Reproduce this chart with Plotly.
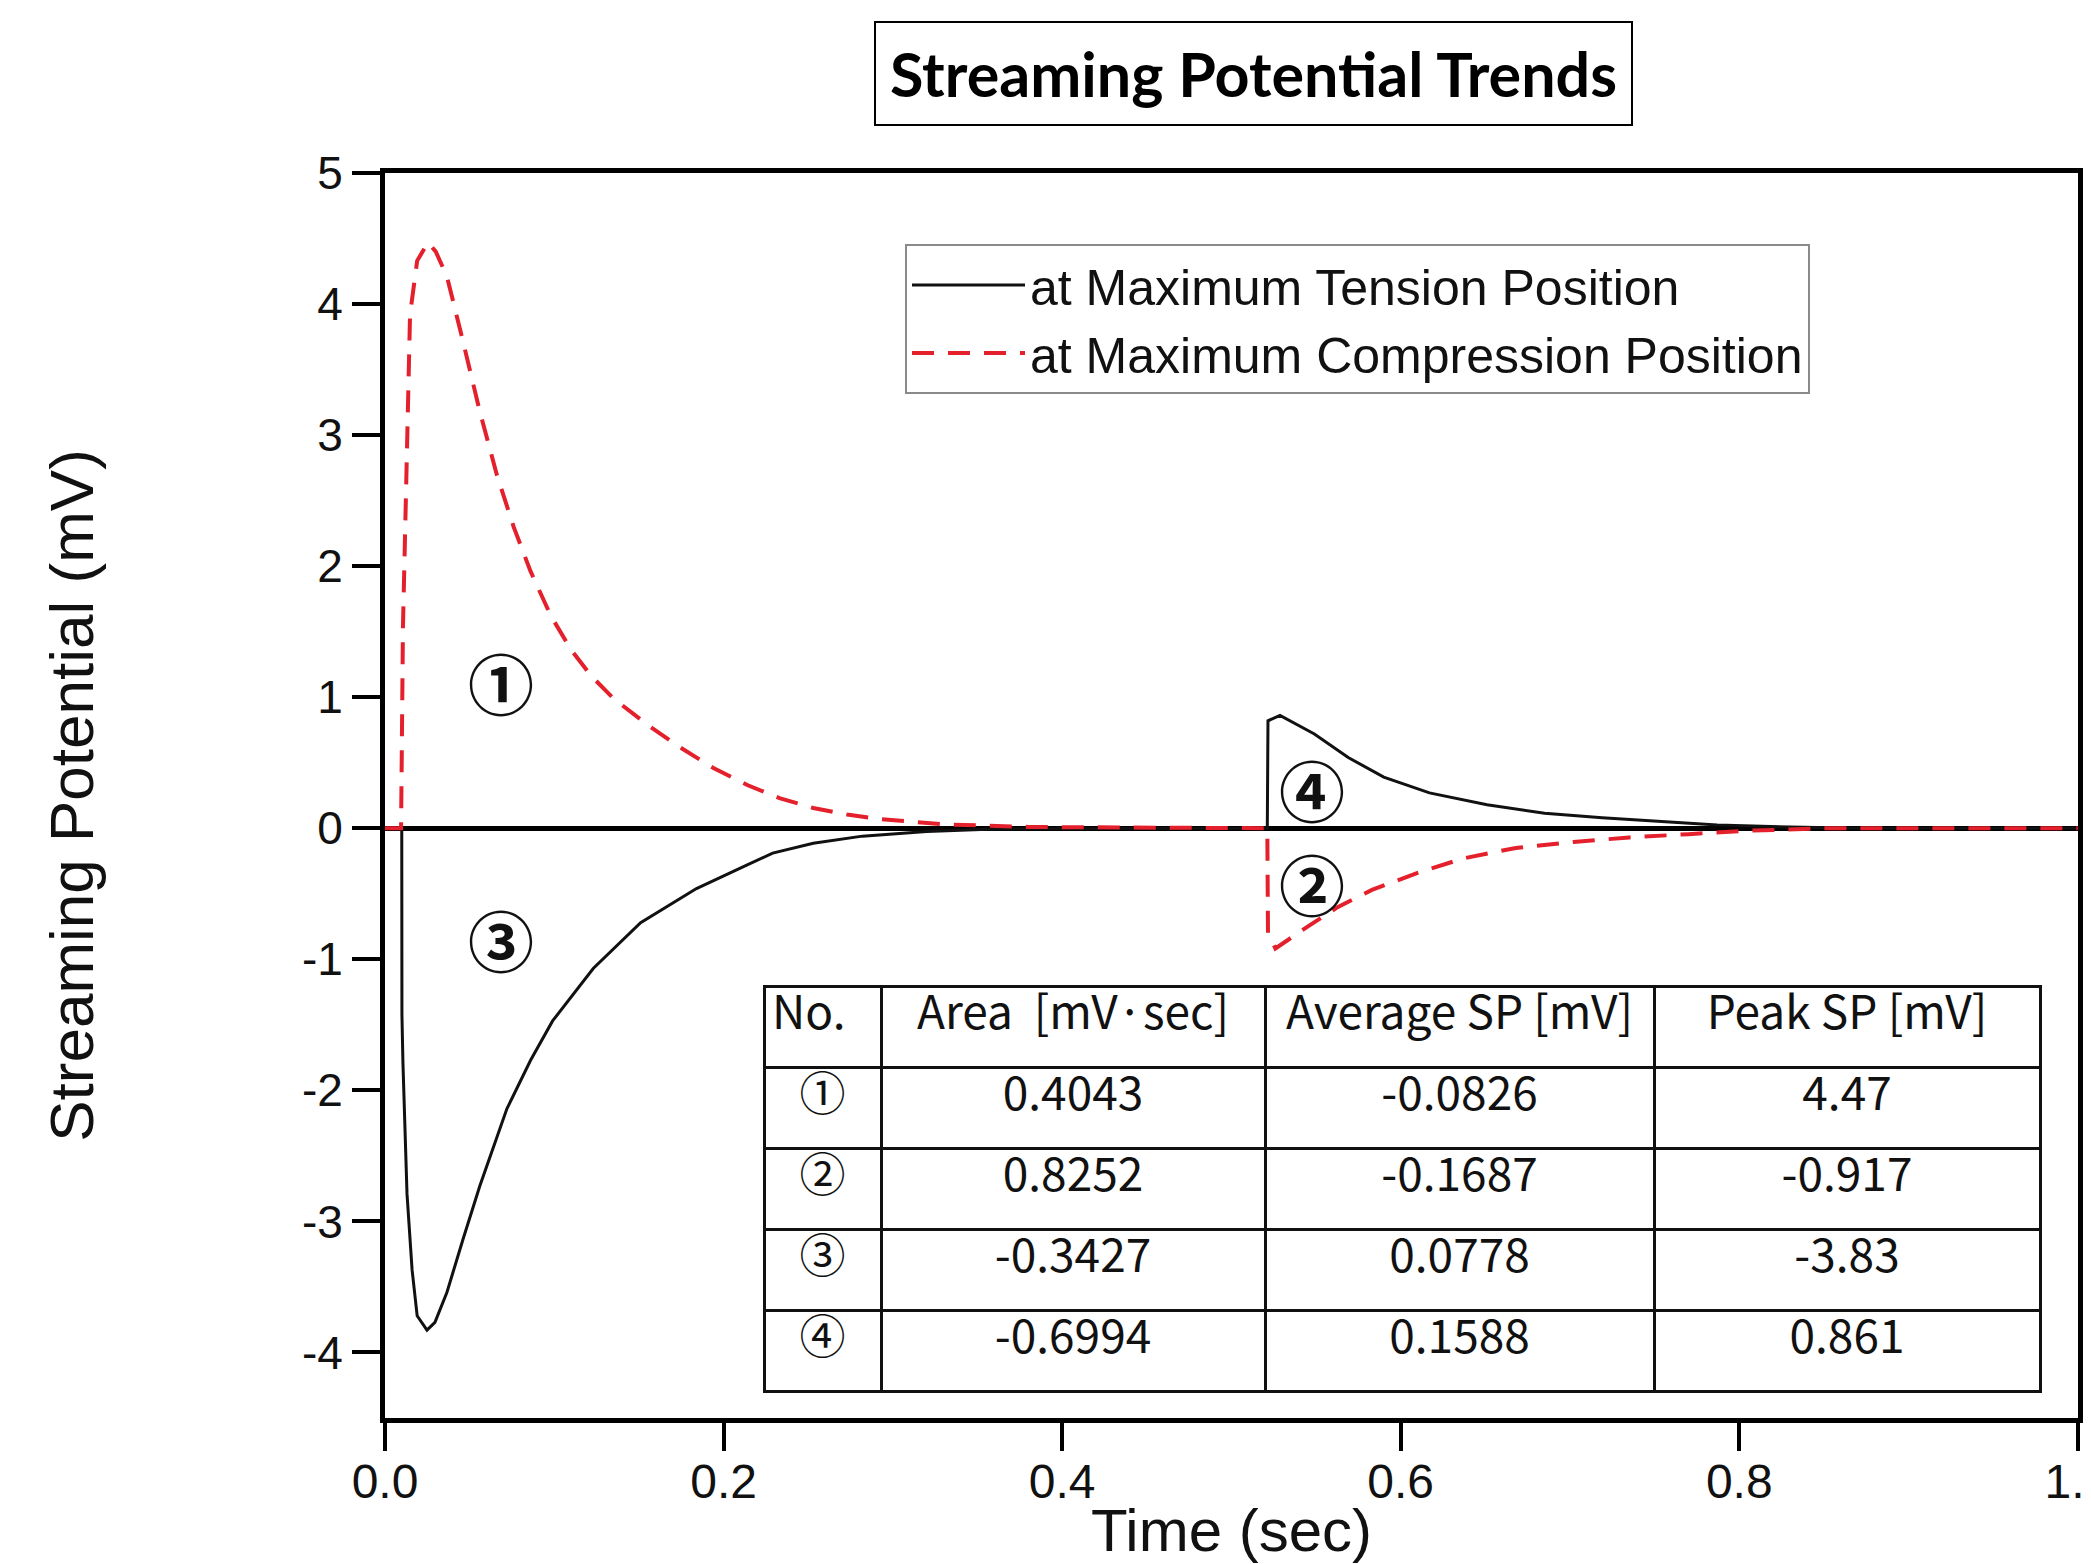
import plotly.graph_objects as go

# ---------------- data ----------------
t_tension = [0, 0.0099, 0.0100, 0.0106, 0.013, 0.016, 0.019, 0.0248, 0.0295, 0.0366,
             0.046, 0.056, 0.072, 0.086, 0.099, 0.123, 0.151, 0.184, 0.214, 0.229,
             0.253, 0.282, 0.32, 0.36, 0.52, 0.5212, 0.5216, 0.5287, 0.549, 0.569,
             0.59, 0.617, 0.651, 0.685, 0.719, 0.753, 0.787, 0.83, 0.87, 1.0]
v_tension = [0, 0, -1.42, -1.79, -2.79, -3.37, -3.72, -3.83, -3.77, -3.54,
             -3.14, -2.73, -2.14, -1.77, -1.47, -1.07, -0.72, -0.46, -0.28, -0.19,
             -0.115, -0.06, -0.025, -0.005, 0, 0, 0.82, 0.861, 0.72, 0.54,
             0.39, 0.27, 0.18, 0.115, 0.08, 0.05, 0.025, 0.01, 0, 0]

t_compression = [0, 0.0095, 0.0106, 0.013, 0.0148, 0.019, 0.0254, 0.030, 0.0366, 0.046,
                 0.056, 0.066, 0.076, 0.086, 0.098, 0.110, 0.122, 0.135, 0.155, 0.174,
                 0.194, 0.214, 0.233, 0.253, 0.273, 0.292, 0.33, 0.38, 0.52, 0.5212,
                 0.5216, 0.526, 0.545, 0.563, 0.583, 0.61, 0.637, 0.668, 0.702, 0.735,
                 0.77, 0.803, 0.85, 1.0]
v_compression = [0, 0, 1.53, 3.05, 3.92, 4.33, 4.47, 4.40, 4.21, 3.72,
                  3.18, 2.70, 2.30, 1.96, 1.62, 1.36, 1.16, 0.99, 0.79, 0.62,
                  0.46, 0.33, 0.23, 0.155, 0.105, 0.07, 0.03, 0.01, 0, 0,
                  -0.80, -0.917, -0.75, -0.60, -0.47, -0.34, -0.23, -0.15, -0.105, -0.07,
                  -0.045, -0.02, 0, 0]

series_names = ["at Maximum Tension Position", "at Maximum Compression Position"]

x_tick_vals = [0.0, 0.2, 0.4, 0.6, 0.8, 1.0]
y_tick_vals = [-4, -3, -2, -1, 0, 1, 2, 3, 4, 5]
y_tick_text = ["-4", "-3", "-2", "-1", "0", "1", "2", "3", "4", "5"]

region_labels = ["①", "②", "③", "④"]
region_t = [0.0686, 0.5477, 0.0686, 0.5477]
region_v = [1.12, -0.41, -0.835, 0.305]

table_header = ["No.", "Area  [mV·sec]", "Average SP [mV]", "Peak SP [mV]"]
table_no = ["①", "②", "③", "④"]
table_area = ["0.4043", "0.8252", "-0.3427", "-0.6994"]
table_avg = ["-0.0826", "-0.1687", "0.0778", "0.1588"]
table_peak = ["4.47", "-0.917", "-3.83", "0.861"]

# ---------------- layout geometry (page pixels) ----------------
OFF = 8                      # default body margin of the html page
PAGE_W, PAGE_H = 2091, 1564
W, H = PAGE_W - OFF, PAGE_H - OFF
PLOT_L, PLOT_R, PLOT_T, PLOT_B = 385, 2078, 173, 1418   # page coords of the plot area
ML, MR = PLOT_L - OFF, PAGE_W - PLOT_R
MT, MB = PLOT_T - OFF, PAGE_H - PLOT_B
PW, PH = PLOT_R - PLOT_L, PLOT_B - PLOT_T


def px_x(p):
    return (p - PLOT_L) / PW


def px_y(p):
    return (PLOT_B - p) / PH


AX_FONT = "Liberation Sans, Arial, sans-serif"
RED = "#e3202b"
INK = "#111111"

fig = go.Figure()
fig.add_trace(go.Scatter(x=t_tension, y=v_tension, mode="lines", name=series_names[0],
                         line=dict(color=INK, width=3)))
fig.add_trace(go.Scatter(x=t_compression, y=v_compression, mode="lines", name=series_names[1],
                         line=dict(color=RED, width=4, dash="22px,14px")))

fig.add_trace(go.Table(
    domain=dict(x=[px_x(764), px_x(2040)], y=[px_y(1393), px_y(986)]),
    columnwidth=[117, 384, 389, 386],
    header=dict(values=table_header, height=81,
                align=["left", "center", "center", "center"],
                fill_color="white", line=dict(color=INK, width=3),
                font=dict(family="Noto Sans CJK KR", size=46, color=INK)),
    cells=dict(values=[table_no, table_area, table_avg, table_peak], height=81,
               align="center", fill_color="white", line=dict(color=INK, width=3),
               font=dict(family="Noto Sans CJK KR", size=46, color=INK)),
))

for lab, tx, vy in zip(region_labels, region_t, region_v):
    fig.add_annotation(x=tx, y=vy, xref="x", yref="y", text=lab, showarrow=False,
                       xanchor="center", yanchor="middle",
                       font=dict(family="Noto Sans CJK KR", size=66, color=INK, weight="bold"))

fig.add_annotation(x=px_x(1253.5), y=px_y(74), xref="paper", yref="paper",
                   xanchor="center", yanchor="middle",
                   text="<b>Streaming Potential Trends</b>", showarrow=False,
                   font=dict(family="Lato, sans-serif", size=61, color="black"),
                   bordercolor="black", borderwidth=2, borderpad=14, bgcolor="white")

fig.update_layout(
    template="none",
    width=W, height=H,
    margin=dict(l=ML, r=MR, t=MT, b=MB, pad=0),
    paper_bgcolor="white", plot_bgcolor="white",
    showlegend=True,
    legend=dict(x=px_x(905), y=px_y(244), xanchor="left", yanchor="top",
                bordercolor="#8a8a8a", borderwidth=2, bgcolor="white",
                font=dict(family=AX_FONT, size=50, color=INK),
                itemwidth=113, tracegroupgap=0),
    xaxis=dict(range=[0, 1.0001], tickvals=x_tick_vals, tickformat=".1f",
               ticks="outside", ticklen=28, tickwidth=4, tickcolor="black",
               ticklabelstandoff=-11, ticklabeloverflow="allow",
               showline=True, linewidth=5, linecolor="black", mirror=True,
               showgrid=False, zeroline=False, automargin=False,
               tickfont=dict(family=AX_FONT, size=48, color=INK),
               title=dict(text="Time (sec)", standoff=20,
                          font=dict(family=AX_FONT, size=60, color=INK))),
    yaxis=dict(range=[-4.5, 5], tickvals=y_tick_vals, ticktext=y_tick_text,
               ticks="outside", ticklen=28, tickwidth=4, tickcolor="black",
               showline=True, linewidth=5, linecolor="black", mirror=True,
               showgrid=False, zeroline=True, zerolinecolor="black", zerolinewidth=5,
               automargin=False,
               tickfont=dict(family=AX_FONT, size=46, color=INK),
               title=dict(text="Streaming Potential (mV)", standoff=190,
                          font=dict(family=AX_FONT, size=62, color=INK))),
)

fig.write_html("out.html")
